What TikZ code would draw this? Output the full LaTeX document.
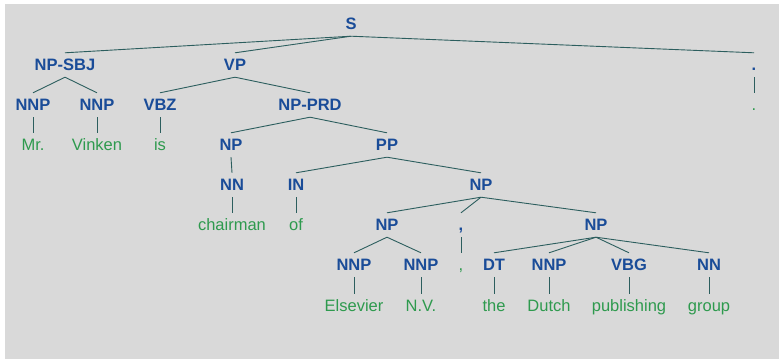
\documentclass[tikz,border=0pt]{standalone}
\usepackage{fontspec}
\setmainfont{Liberation Sans}
\definecolor{bg}{HTML}{D9D9D9}
\definecolor{lab}{HTML}{1A4C98}
\definecolor{wrd}{HTML}{2E9A4E}
\definecolor{edg}{HTML}{2C5E5E}
\begin{document}
\begin{tikzpicture}[x=1pt,y=-1pt,
  base/.style={text height=12pt, text depth=2pt, inner xsep=1pt, inner ysep=5pt},
  lbl/.style={base, font=\fontsize{16.5}{18}\selectfont\bfseries, text=lab},
  wd/.style={base, font=\fontsize{16.5}{18}\selectfont, text=wrd},
  br/.style={draw=edg, line width=0.9pt}]
\useasboundingbox (0,0) rectangle (779,359);
\fill[white] (0,0) rectangle (779,359);
\fill[bg] (5,4) rectangle (779,359);
% labels
\node[lbl] (S) at (351,24) {S};
\node[lbl] (npsbj) at (65,65) {NP-SBJ};
\node[lbl] (vp) at (235,65) {VP};
\node[lbl] (per) at (754,65) {.};
\node[lbl] (nnp1) at (33,105) {NNP};
\node[lbl] (nnp2) at (97,105) {NNP};
\node[lbl] (vbz) at (160,105) {VBZ};
\node[lbl] (nprd) at (310,105) {NP-PRD};
\node[wd] (wper) at (754,105) {.};
\node[wd] (wmr) at (33,145) {Mr.};
\node[wd] (wvin) at (97,145) {Vinken};
\node[wd] (wis) at (160,145) {is};
\node[lbl] (np1) at (231,145) {NP};
\node[lbl] (pp) at (387,145) {PP};
\node[lbl] (nn1) at (232,185) {NN};
\node[lbl] (in) at (296,185) {IN};
\node[lbl] (np2) at (481,185) {NP};
\node[wd] (wch) at (232,225) {chairman};
\node[wd] (wof) at (296,225) {of};
\node[lbl] (np3) at (387,225) {NP};
\node[lbl] (com) at (461,225) {,};
\node[lbl] (np4) at (596,225) {NP};
\node[lbl] (nnp3) at (354,265) {NNP};
\node[lbl] (nnp4) at (421,265) {NNP};
\node[wd] (wcom) at (461,265) {,};
\node[lbl] (dt) at (494,265) {DT};
\node[lbl] (nnp5) at (549,265) {NNP};
\node[lbl] (vbg) at (629,265) {VBG};
\node[lbl] (nn2) at (709,265) {NN};
\node[wd] (wels) at (354,306) {Elsevier};
\node[wd] (wnv) at (421,306) {N.V.};
\node[wd] (wthe) at (494,306) {the};
\node[wd] (wdut) at (549,306) {Dutch};
\node[wd] (wpub) at (629,306) {publishing};
\node[wd] (wgrp) at (709,306) {group};
% edges
\foreach \a/\b in {S/npsbj,S/vp,S/per,npsbj/nnp1,npsbj/nnp2,vp/vbz,vp/nprd,per/wper,
  nnp1/wmr,nnp2/wvin,vbz/wis,nprd/np1,nprd/pp,np1/nn1,pp/in,pp/np2,nn1/wch,in/wof,
  np2/np3,np2/com,np2/np4,com/wcom,np3/nnp3,np3/nnp4,np4/dt,np4/nnp5,np4/vbg,np4/nn2,
  nnp3/wels,nnp4/wnv,dt/wthe,nnp5/wdut,vbg/wpub,nn2/wgrp}
  \draw[br] (\a.south) -- (\b.north);
\end{tikzpicture}
\end{document}
